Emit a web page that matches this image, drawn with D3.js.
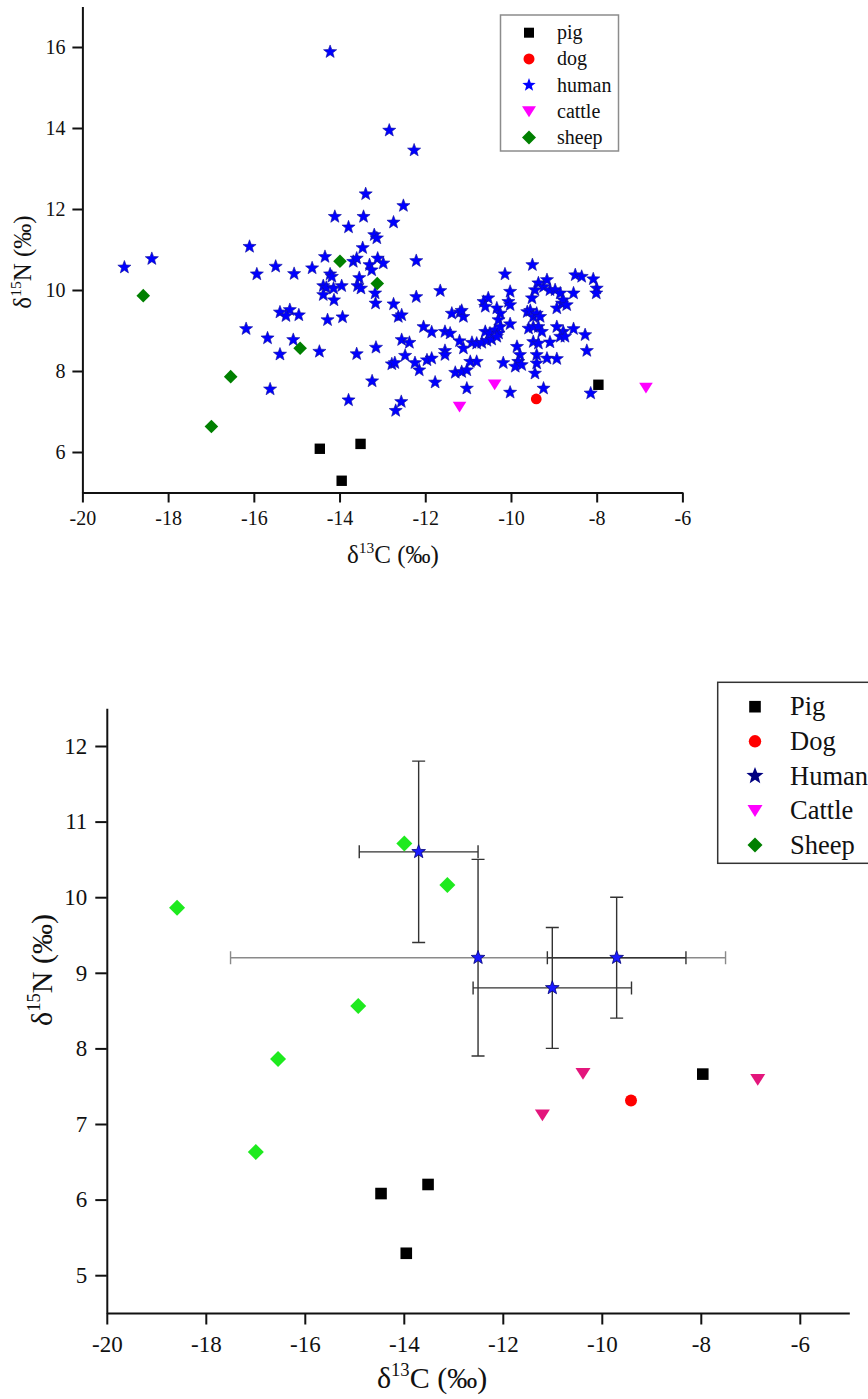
<!DOCTYPE html>
<html>
<head>
<meta charset="utf-8">
<script src="https://cdn.jsdelivr.net/npm/d3@7"></script>
<style>
  body { margin: 0; background: #fff; }
  svg { display: block; }
  text { font-family: "Liberation Serif", "Times New Roman", serif; fill: #111; }
</style>
</head>
<body>
<svg id="chart" width="868" height="1399"></svg>
<script>
// ---- animal samples: δ13C and δ15N (‰) ----
const pigC = [-14.46, -13.51, -13.95, -7.96];
const pigN = [6.08, 6.20, 5.29, 7.66];
const dogC = [-9.41];
const dogN = [7.31];
const cattleC = [-11.20, -10.38, -6.85];
const cattleN = [7.12, 7.67, 7.59];
const sheepC = [-18.58, -16.54, -16.99, -14.92, -13.99, -13.12];
const sheepN = [9.86, 7.86, 6.63, 8.56, 10.71, 10.16];

// ---- individual human samples ----
const humanC = [
  -14.22, -12.84, -12.26, -13.39, -12.51, -14.11, -13.44, -13.79, -12.74, -13.19,
  -13.13, -13.46, -16.10, -19.02, -18.38, -12.21, -14.34, -13.68, -13.60, -13.11,
  -12.98, -15.93, -15.49, -15.06, -14.64, -14.22, -14.18, -13.30, -13.25, -13.54,
  -14.38, -14.31, -14.14, -13.95, -13.58, -13.50, -14.38, -14.13, -13.17, -13.16,
  -15.39, -15.16, -15.25, -14.95, -14.28, -13.93, -16.18, -15.68, -15.08, -15.39,
  -14.47, -13.60, -13.15, -15.62, -13.24, -13.79, -12.74, -12.63, -12.55, -12.21,
  -11.65, -12.56, -12.69, -12.04, -11.85, -12.55, -12.37, -12.47, -12.78, -12.71,
  -12.24, -12.14, -11.96, -11.85, -11.77, -11.54, -11.54, -11.54, -11.42, -11.38,
  -11.19, -11.11, -11.15, -11.20, -11.11, -11.30, -11.15, -11.03, -11.03, -10.95,
  -10.80, -10.91, -10.80, -10.68, -10.56, -10.45, -10.64, -10.53, -10.60, -10.33,
  -10.25, -10.29, -10.60, -10.49, -10.37, -10.29, -10.25, -10.33, -10.14, -10.02,
  -10.06, -10.02, -10.02, -10.18, -10.02, -9.86, -9.79, -9.83, -9.90, -9.75,
  -9.50, -9.62, -9.55, -9.48, -9.40, -9.32, -9.51, -9.44, -9.36, -9.24,
  -9.16, -9.09, -8.97, -8.85, -9.59, -9.48, -9.36, -9.28, -9.48, -9.36,
  -9.40, -9.40, -9.44, -9.24, -9.16, -8.93, -9.09, -8.93, -8.78, -8.85,
  -8.74, -8.93, -8.81, -8.78, -8.70, -8.54, -8.50, -8.35, -8.08, -8.54,
  -8.27, -8.23, -8.00, -8.01, -8.14
];
const humanN = [
  15.88, 13.94, 13.45, 12.37, 12.08, 11.81, 11.81, 11.55, 11.67, 11.36,
  11.28, 11.04, 11.07, 10.56, 10.77, 10.72, 10.82, 10.70, 10.78, 10.78,
  10.66, 10.39, 10.58, 10.40, 10.54, 10.39, 10.33, 10.62, 10.49, 10.30,
  10.10, 10.06, 10.04, 10.10, 10.10, 10.04, 9.88, 9.75, 9.92, 9.67,
  9.45, 9.51, 9.36, 9.38, 9.26, 9.33, 9.04, 8.81, 8.77, 8.41,
  8.48, 8.42, 8.58, 7.55, 7.75, 7.28, 9.65, 9.34, 9.38, 9.83,
  9.98, 7.24, 7.02, 9.09, 8.96, 8.77, 8.70, 8.38, 8.17, 8.20,
  8.20, 8.02, 8.27, 8.31, 7.72, 8.50, 8.40, 8.97, 8.93, 9.42,
  9.45, 9.34, 9.49, 8.74, 8.56, 7.96, 7.98, 8.02, 7.57, 8.23,
  8.23, 8.70, 8.68, 8.70, 8.75, 8.78, 9.71, 9.80, 9.59, 9.55,
  9.42, 9.26, 8.97, 8.93, 9.01, 8.93, 9.09, 8.85, 10.39, 9.96,
  9.71, 9.63, 9.16, 8.20, 7.47, 8.60, 8.40, 8.23, 8.11, 8.15,
  10.62, 9.46, 9.49, 9.34, 9.42, 9.34, 9.80, 10.00, 10.17, 10.08,
  10.25, 10.00, 10.00, 9.92, 9.05, 9.09, 9.09, 8.97, 8.72, 8.68,
  8.40, 8.19, 7.94, 7.57, 8.31, 8.30, 8.71, 9.09, 8.97, 8.85,
  8.85, 9.55, 9.67, 9.75, 9.63, 9.92, 10.37, 10.33, 10.27, 9.04,
  8.89, 8.50, 10.04, 9.92, 7.45
];

// ---- human group means with standard deviations ----
const meanC = [-13.7, -12.5, -11.0, -9.7];
const meanN = [10.6, 9.2, 8.8, 9.2];
const sdC = [1.2, 5.0, 1.6, 1.4];
const sdN = [1.2, 1.3, 0.8, 0.8];

// ---- tick values and legend labels ----
const xMajor = [-20, -18, -16, -14, -12, -10, -8, -6];
const xMinorTop = [-19, -17, -15, -13, -11, -9, -7];
const xMinorBottom = [-19, -17, -15, -13, -11, -9, -7, -5];
const yMajorTop = [6, 8, 10, 12, 14, 16];
const yMinorTop = [7, 9, 11, 13, 15, 17];
const yMajorBottom = [5, 6, 7, 8, 9, 10, 11, 12];
const yMinorBottom = [5.5, 6.5, 7.5, 8.5, 9.5, 10.5, 11.5, 12.5];
const legendTop = ["pig", "dog", "human", "cattle", "sheep"];
const legendBottom = ["Pig", "Dog", "Human", "Cattle", "Sheep"];

const SERIF = '"Liberation Serif", "Times New Roman", serif';
const svg = d3.select("#chart");
svg.append("rect").attr("width", 868).attr("height", 1399).attr("fill", "#fff");

// marker outlines, s = half-size in px
function shapePath(kind, s) {
  switch (kind) {
    case "square": return `M${-s},${-s}H${s}V${s}H${-s}Z`;
    case "circle": return d3.symbol(d3.symbolCircle, Math.PI * s * s)();
    case "star": {
      const p = [];
      for (let i = 0; i < 10; i++) {
        const r = i % 2 ? s * 0.42 : s;
        const a = -Math.PI / 2 + i * Math.PI / 5;
        p.push([r * Math.cos(a), r * Math.sin(a)]);
      }
      return "M" + p.map(q => q.join(",")).join("L") + "Z";
    }
    case "triangle": return `M${-s},${-s * 0.72}L${s},${-s * 0.72}L0,${s * 0.85}Z`;
    case "diamond": return `M0,${-s}L${s},0L0,${s}L${-s},0Z`;
  }
}

function zip(a, b) { return a.map((v, i) => [v, b[i]]); }

function drawPoints(g, x, y, pts, kind, s, fill, stroke, sw) {
  g.append("g").selectAll("path").data(pts).join("path")
    .attr("d", shapePath(kind, s))
    .attr("transform", d => `translate(${x(d[0])},${y(d[1])})`)
    .attr("fill", fill)
    .attr("stroke", stroke || "none")
    .attr("stroke-width", sw || 0);
}

// plain hyphen-minus labels
const fmt = d => String(d);

function drawAxes(g, x, y, o) {
  const xa = g.append("g").attr("transform", `translate(0,${y.range()[0]})`);
  xa.call(d3.axisBottom(x).tickValues(o.xMinor).tickSize(o.minor).tickSizeOuter(0).tickFormat(""));
  xa.call(d3.axisBottom(x).tickValues(xMajor).tickSize(o.major).tickSizeOuter(0)
    .tickPadding(o.xPad).tickFormat(fmt));
  const ya = g.append("g").attr("transform", `translate(${x.range()[0]},0)`);
  ya.call(d3.axisLeft(y).tickValues(o.yMinor).tickSize(o.minor).tickSizeOuter(0).tickFormat(""));
  ya.call(d3.axisLeft(y).tickValues(o.yMajor).tickSize(o.major).tickSizeOuter(0)
    .tickPadding(o.yPad).tickFormat(fmt));
  [xa, ya].forEach(a => a.attr("font-family", null).attr("font-size", null));
  g.selectAll(".domain").attr("stroke", "#111").attr("stroke-width", 2);
  g.selectAll(".tick line").attr("stroke", "#111").attr("stroke-width", 2);
  g.selectAll(".tick text").attr("fill", "#111")
    .style("font-family", SERIF).style("font-size", o.font + "px");
}

function isoLabel(g, tx, ty, rot, el, mass, size) {
  const t = g.append("text")
    .attr("transform", `translate(${tx},${ty}) rotate(${rot})`)
    .attr("text-anchor", "middle").style("font-size", size + "px");
  t.append("tspan").text("δ");
  t.append("tspan").style("font-size", (size * 0.62) + "px").attr("dy", -size * 0.4).text(mass);
  t.append("tspan").attr("dy", size * 0.4).text(el + " (‰)");
}

// ================= scatter of individual samples =================
{
  const g = svg.append("g");
  const x = d3.scaleLinear().domain([-20, -6]).range([82.4, 682.4]);
  const y = d3.scaleLinear().domain([5, 17]).range([492.5, 6.5]);
  drawAxes(g, x, y, { xMinor: xMinorTop, yMinor: yMinorTop, yMajor: yMajorTop,
    major: 10, minor: 6, xPad: 8, yPad: 7, font: 20 });

  drawPoints(g, x, y, zip(pigC, pigN), "square", 5.2, "#000");
  drawPoints(g, x, y, zip(dogC, dogN), "circle", 5.4, "#f00");
  drawPoints(g, x, y, zip(humanC, humanN), "star", 6.9, "#0000ff", "#10109a", 0.6);
  drawPoints(g, x, y, zip(cattleC, cattleN), "triangle", 6.8, "#ff00ff");
  drawPoints(g, x, y, zip(sheepC, sheepN), "diamond", 6.8, "#008000");

  isoLabel(g, 393, 563, 0, "C", "13", 25);
  isoLabel(g, 31, 262, -90, "N", "15", 25);

  const lg = g.append("g");
  lg.append("rect").attr("x", 500.5).attr("y", 15).attr("width", 118).attr("height", 136)
    .attr("fill", "#fff").attr("stroke", "#8c8c8c").attr("stroke-width", 1.5);
  const kinds = ["square", "circle", "star", "triangle", "diamond"];
  const fills = ["#000", "#f00", "#0000ff", "#ff00ff", "#008000"];
  const sizes = [5, 5.5, 7, 7, 7];
  legendTop.forEach((name, i) => {
    const cy = 32.7 + i * 26.2;
    lg.append("path").attr("d", shapePath(kinds[i], sizes[i]))
      .attr("transform", `translate(529,${cy})`).attr("fill", fills[i]);
    lg.append("text").attr("x", 557).attr("y", cy).attr("dy", "0.32em")
      .style("font-size", "20px").text(name);
  });
}

// ================= group means with error bars =================
{
  const g = svg.append("g");
  const x = d3.scaleLinear().domain([-20, -5]).range([106.8, 849.3]);
  const y = d3.scaleLinear().domain([4.5, 12.5]).range([1313, 708.2]);
  drawAxes(g, x, y, { xMinor: xMinorBottom, yMinor: yMinorBottom, yMajor: yMajorBottom,
    major: 11.5, minor: 7, xPad: 11, yPad: 8, font: 23 });

  // error bars: horizontal (δ13C) and vertical (δ15N), capped
  const eb = g.append("g").attr("fill", "none").attr("stroke-width", 1.4);
  const cap = 6.5;
  meanC.forEach((c, i) => {
    const col = i === 1 ? "#8a8a8a" : "#333";
    const cx = x(c), cy = y(meanN[i]);
    const x0 = x(c - sdC[i]), x1 = x(c + sdC[i]);
    eb.append("path").attr("stroke", col)
      .attr("d", `M${x0},${cy}H${x1}M${x0},${cy - cap}V${cy + cap}M${x1},${cy - cap}V${cy + cap}`);
    const y0 = y(meanN[i] - sdN[i]), y1 = y(meanN[i] + sdN[i]);
    eb.append("path").attr("stroke", "#333")
      .attr("d", `M${cx},${y0}V${y1}M${cx - cap},${y0}H${cx + cap}M${cx - cap},${y1}H${cx + cap}`);
  });

  drawPoints(g, x, y, zip(pigC, pigN), "square", 5.8, "#000");
  drawPoints(g, x, y, zip(dogC, dogN), "circle", 6, "#f00");
  drawPoints(g, x, y, zip(meanC, meanN), "star", 7.2, "#1a1aff", "#00007a", 0.8);
  drawPoints(g, x, y, zip(cattleC, cattleN), "triangle", 7.5, "#e3167c");
  drawPoints(g, x, y, zip(sheepC, sheepN), "diamond", 8, "#1eea1e");

  isoLabel(g, 432, 1388, 0, "C", "13", 30);
  isoLabel(g, 52, 970, -90, "N", "15", 30);

  const lg = g.append("g");
  lg.append("rect").attr("x", 717.7).attr("y", 682.3).attr("width", 170).attr("height", 181)
    .attr("fill", "#fff").attr("stroke", "#333").attr("stroke-width", 1.5);
  const kinds = ["square", "circle", "star", "triangle", "diamond"];
  const fills = ["#000", "#f00", "#000080", "#ff00ff", "#008000"];
  const sizes = [5.8, 6.2, 9, 7.5, 7.5];
  legendBottom.forEach((name, i) => {
    const cy = 706.7 + i * 34.6;
    lg.append("path").attr("d", shapePath(kinds[i], sizes[i]))
      .attr("transform", `translate(755,${cy})`).attr("fill", fills[i]);
    lg.append("text").attr("x", 790).attr("y", cy).attr("dy", "0.33em")
      .style("font-size", "26.5px").text(name);
  });
}
</script>
</body>
</html>
